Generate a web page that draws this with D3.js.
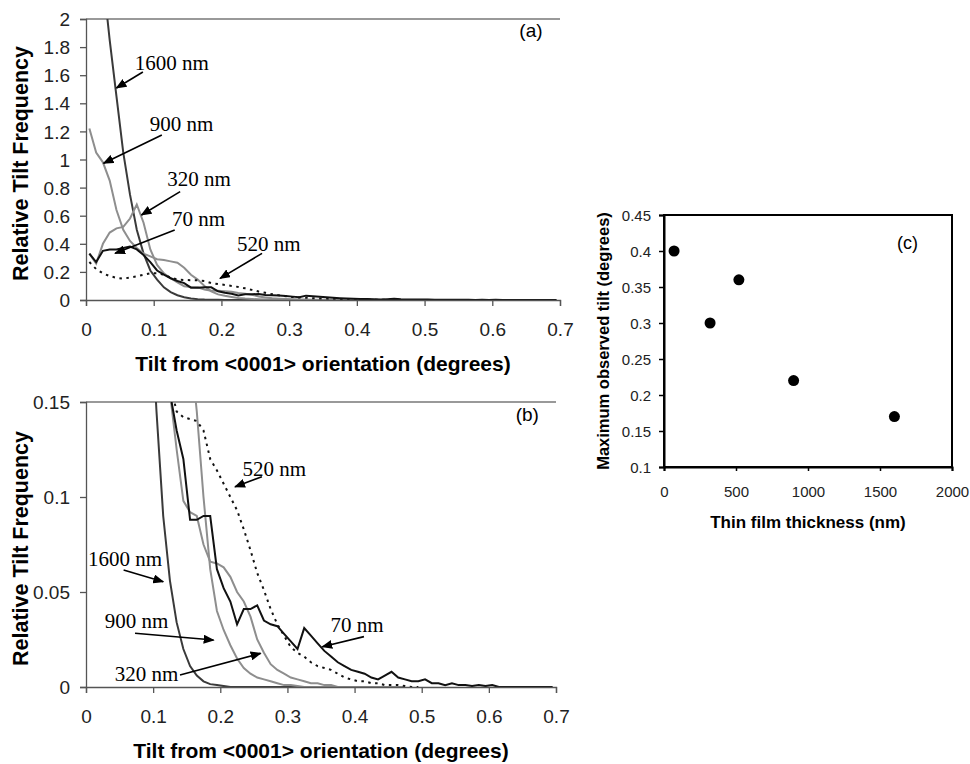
<!DOCTYPE html>
<html>
<head>
<meta charset="utf-8">
<script src="https://cdn.jsdelivr.net/npm/d3@7"></script>
<style>
  body { margin: 0; background: #fff; }
  svg { display: block; }
  .tick text { font-family: Arial, "Liberation Sans", sans-serif; }
</style>
</head>
<body>
<div id="chart"></div>
<script>
// histogram bin centres (degrees), step 0.01
const tiltBins = d3.range(70).map(i => +(0.005 + i * 0.01).toFixed(3));

// relative tilt frequency per film thickness
const freq1600 = [3.6, 2.9, 2.3, 1.85, 1.45, 1.05, 0.75, 0.5, 0.33, 0.21,
  0.145, 0.09, 0.056, 0.034, 0.02, 0.011, 0.006, 0.003, 0.0015, 0.001,
  0.0005, 0, 0, 0, 0, 0, 0, 0, 0, 0, 0, 0, 0, 0, 0, 0, 0, 0, 0, 0,
  0, 0, 0, 0, 0, 0, 0, 0];
const freq900 = [1.22, 1.05, 0.98, 0.85, 0.64, 0.5, 0.42, 0.37, 0.33, 0.31,
  0.29, 0.285, 0.275, 0.265, 0.23, 0.18, 0.145, 0.1, 0.062, 0.04,
  0.03, 0.022, 0.015, 0.01, 0.007, 0.005, 0.004, 0.003, 0.002, 0.001,
  0.001, 0.0005, 0, 0, 0, 0, 0, 0, 0, 0, 0, 0, 0, 0, 0, 0, 0, 0];
const freq320 = [0.33, 0.26, 0.4, 0.48, 0.51, 0.52, 0.58, 0.68, 0.55, 0.36,
  0.25, 0.19, 0.155, 0.125, 0.098, 0.092, 0.09, 0.075, 0.066, 0.065,
  0.063, 0.058, 0.05, 0.045, 0.037, 0.025, 0.018, 0.012, 0.009, 0.007,
  0.005, 0.004, 0.003, 0.002, 0.002, 0.001, 0.001, 0, 0, 0, 0, 0, 0, 0,
  0, 0, 0, 0];
const freq70 = [0.33, 0.27, 0.35, 0.36, 0.36, 0.37, 0.38, 0.36, 0.32, 0.27,
  0.21, 0.18, 0.155, 0.135, 0.12, 0.088, 0.088, 0.09, 0.09, 0.062,
  0.052, 0.045, 0.033, 0.041, 0.041, 0.043, 0.035, 0.033, 0.032, 0.028,
  0.024, 0.02, 0.031, 0.027, 0.023, 0.019, 0.016, 0.013, 0.011, 0.009,
  0.008, 0.007, 0.005, 0.004, 0.006, 0.008, 0.005, 0.004, 0.003, 0.003,
  0.004, 0.002, 0.002, 0.001, 0.002, 0.001, 0.001, 0.0005, 0.001, 0.0005,
  0.001, 0, 0, 0, 0, 0, 0, 0, 0, 0];
const freq520 = [0.27, 0.22, 0.19, 0.17, 0.158, 0.152, 0.16, 0.168, 0.18, 0.19,
  0.19, 0.18, 0.16, 0.145, 0.142, 0.141, 0.14, 0.135, 0.12, 0.114,
  0.107, 0.1, 0.093, 0.083, 0.072, 0.06, 0.051, 0.041, 0.033, 0.027,
  0.021, 0.018, 0.016, 0.013, 0.011, 0.01, 0.009, 0.007, 0.005, 0.004,
  0.003, 0.003, 0.002, 0.002, 0.001, 0.001, 0.001, 0.0005, 0, 0];

// panel (c): thickness vs maximum observed tilt
const thickness = [70, 320, 520, 900, 1600];
const maxTilt = [0.4, 0.3, 0.36, 0.22, 0.17];

const xTicksAB = [0, 0.1, 0.2, 0.3, 0.4, 0.5, 0.6, 0.7];
const yTicksA = [0, 0.2, 0.4, 0.6, 0.8, 1, 1.2, 1.4, 1.6, 1.8, 2];
const yTicksB = [0, 0.05, 0.1, 0.15];
const xTicksC = [0, 500, 1000, 1500, 2000];
const yTicksC = [0.1, 0.15, 0.2, 0.25, 0.3, 0.35, 0.4, 0.45];

const series = [
  { name: "1600 nm", values: freq1600, color: "#3a3a3a", dash: null },
  { name: "900 nm", values: freq900, color: "#8e8e8e", dash: null },
  { name: "320 nm", values: freq320, color: "#8e8e8e", dash: null },
  { name: "70 nm", values: freq70, color: "#111", dash: null },
  { name: "520 nm", values: freq520, color: "#111", dash: "2.5,4.5" }
];

const W = 970, H = 764;
const svg = d3.select("#chart").append("svg").attr("width", W).attr("height", H);
const sans = "Arial, 'Liberation Sans', sans-serif";
const serif = "'Times New Roman', 'Liberation Serif', serif";

svg.append("defs").append("marker")
  .attr("id", "arrow")
  .attr("viewBox", "0 0 10 10")
  .attr("refX", 9).attr("refY", 5)
  .attr("markerWidth", 11).attr("markerHeight", 9)
  .attr("markerUnits", "userSpaceOnUse")
  .attr("orient", "auto")
  .attr("preserveAspectRatio", "none")
  .append("path").attr("d", "M0,0 L10,5 L0,10 z").attr("fill", "#000");

function tiltPanel(id, box, yMax, yTicks, notes, tag) {
  const x = d3.scaleLinear().domain([0, 0.7]).range([box.left, box.right]);
  const y = d3.scaleLinear().domain([0, yMax]).range([box.bottom, box.top]);
  const g = svg.append("g");

  g.append("clipPath").attr("id", id)
    .append("rect").attr("x", box.left).attr("y", box.top)
    .attr("width", box.right - box.left + 2).attr("height", box.bottom - box.top);

  // top frame line
  g.append("line").attr("x1", box.left).attr("x2", box.right)
    .attr("y1", box.top).attr("y2", box.top)
    .attr("stroke", "#777").attr("stroke-width", 1.5);

  const line = d3.line().x((d, i) => x(tiltBins[i])).y(d => y(d));
  g.append("g").attr("clip-path", `url(#${id})`)
    .selectAll("path").data(series).enter().append("path")
    .attr("d", d => line(d.values))
    .attr("fill", "none")
    .attr("stroke", d => d.color)
    .attr("stroke-width", 2)
    .attr("stroke-dasharray", d => d.dash);

  const xAxis = g.append("g").attr("transform", `translate(0,${box.bottom})`)
    .call(d3.axisBottom(x).tickValues(xTicksAB).tickSize(6).tickPadding(17)
      .tickFormat(d3.format("")));
  const yAxis = g.append("g").attr("transform", `translate(${box.left},0)`)
    .call(d3.axisLeft(y).tickValues(yTicks).tickSize(6).tickPadding(10).tickFormat(d3.format("")));
  [xAxis, yAxis].forEach(a => {
    a.select(".domain").attr("stroke", "#555").attr("stroke-width", 1.3);
    a.selectAll(".tick line").attr("stroke", "#555").attr("stroke-width", 1.3);
    a.selectAll(".tick text").attr("font-size", 19).attr("fill", "#222");
  });
  yAxis.selectAll(".tick text").attr("dy", "0.35em");

  g.append("text")
    .attr("x", (box.left + box.right) / 2).attr("y", box.bottom + 71)
    .attr("text-anchor", "middle")
    .attr("font-family", sans).attr("font-weight", "bold").attr("font-size", 21)
    .text("Tilt from <0001> orientation (degrees)");
  g.append("text")
    .attr("transform", `translate(${box.left - 58},${(box.top + box.bottom) / 2 + 4}) rotate(-90)`)
    .attr("text-anchor", "middle")
    .attr("font-family", sans).attr("font-weight", "bold").attr("font-size", 21.5)
    .text("Relative Tilt Frequency");

  g.append("text").attr("x", x(tag.x)).attr("y", y(tag.y))
    .attr("font-family", sans).attr("font-size", 19).text(tag.label);

  notes.forEach(n => {
    g.append("text").attr("x", x(n.tx)).attr("y", y(n.ty))
      .attr("font-family", serif).attr("font-size", 21).text(n.label);
    g.append("line")
      .attr("x1", x(n.from[0])).attr("y1", y(n.from[1]))
      .attr("x2", x(n.to[0])).attr("y2", y(n.to[1]))
      .attr("stroke", "#000").attr("stroke-width", 1.6)
      .attr("marker-end", "url(#arrow)");
  });
}

tiltPanel("clipA", { left: 86, right: 560, top: 19, bottom: 300 }, 2, yTicksA,
  [
    { label: "1600 nm", tx: 0.072, ty: 1.637, from: [0.084, 1.623], to: [0.045, 1.509] },
    { label: "900 nm", tx: 0.094, ty: 1.203, from: [0.112, 1.174], to: [0.026, 0.973] },
    { label: "320 nm", tx: 0.12, ty: 0.811, from: [0.139, 0.771], to: [0.082, 0.605] },
    { label: "70 nm", tx: 0.127, ty: 0.527, from: [0.131, 0.498], to: [0.043, 0.332] },
    { label: "520 nm", tx: 0.223, ty: 0.349, from: [0.26, 0.332], to: [0.198, 0.154] }
  ],
  { label: "(a)", x: 0.64, y: 1.87 });

tiltPanel("clipB", { left: 86, right: 556, top: 402, bottom: 687 }, 0.15, yTicksB,
  [
    { label: "520 nm", tx: 0.233, ty: 0.111, from: [0.262, 0.1107], to: [0.222, 0.1054] },
    { label: "1600 nm", tx: 0.003, ty: 0.0637, from: [0.056, 0.0616], to: [0.115, 0.0554] },
    { label: "900 nm", tx: 0.028, ty: 0.031, from: [0.073, 0.0283], to: [0.19, 0.0247] },
    { label: "320 nm", tx: 0.043, ty: 0.0032, from: [0.14, 0.0063], to: [0.26, 0.0177] },
    { label: "70 nm", tx: 0.364, ty: 0.029, from: [0.414, 0.0265], to: [0.352, 0.0212] }
  ],
  { label: "(b)", x: 0.64, y: 0.14 });

// panel (c)
const boxC = { left: 664, right: 952, top: 215, bottom: 467 };
const xc = d3.scaleLinear().domain([0, 2000]).range([boxC.left, boxC.right]);
const yc = d3.scaleLinear().domain([0.1, 0.45]).range([boxC.bottom, boxC.top]);
const gc = svg.append("g");
gc.append("rect").attr("x", boxC.left).attr("y", boxC.top)
  .attr("width", boxC.right - boxC.left).attr("height", boxC.bottom - boxC.top)
  .attr("fill", "none").attr("stroke", "#000").attr("stroke-width", 2);
const xcAxis = gc.append("g").attr("transform", `translate(0,${boxC.bottom})`)
  .call(d3.axisBottom(xc).tickValues(xTicksC).tickSize(4).tickPadding(15).tickFormat(d3.format("")));
const ycAxis = gc.append("g").attr("transform", `translate(${boxC.left},0)`)
  .call(d3.axisLeft(yc).tickValues(yTicksC).tickSize(5).tickPadding(8).tickFormat(d3.format("")));
[xcAxis, ycAxis].forEach(a => {
  a.select(".domain").attr("stroke", "#000").attr("stroke-width", 2);
  a.selectAll(".tick line").attr("stroke", "#000").attr("stroke-width", 1.5);
  a.selectAll(".tick text").attr("font-size", 15).attr("fill", "#222");
});
ycAxis.selectAll(".tick text").attr("dy", "0.35em");
gc.selectAll("circle").data(thickness).enter().append("circle")
  .attr("cx", d => xc(d)).attr("cy", (d, i) => yc(maxTilt[i]))
  .attr("r", 5.5).attr("fill", "#000");
gc.append("text").attr("x", (boxC.left + boxC.right) / 2).attr("y", 528)
  .attr("text-anchor", "middle").attr("font-family", sans)
  .attr("font-weight", "bold").attr("font-size", 17).text("Thin film thickness (nm)");
gc.append("text")
  .attr("transform", `translate(609,${(boxC.top + boxC.bottom) / 2}) rotate(-90)`)
  .attr("text-anchor", "middle").attr("font-family", sans)
  .attr("font-weight", "bold").attr("font-size", 16.5).text("Maximum observed tilt (degrees)");
gc.append("text").attr("x", 897).attr("y", 249)
  .attr("font-family", sans).attr("font-size", 18).text("(c)");
</script>
</body>
</html>
